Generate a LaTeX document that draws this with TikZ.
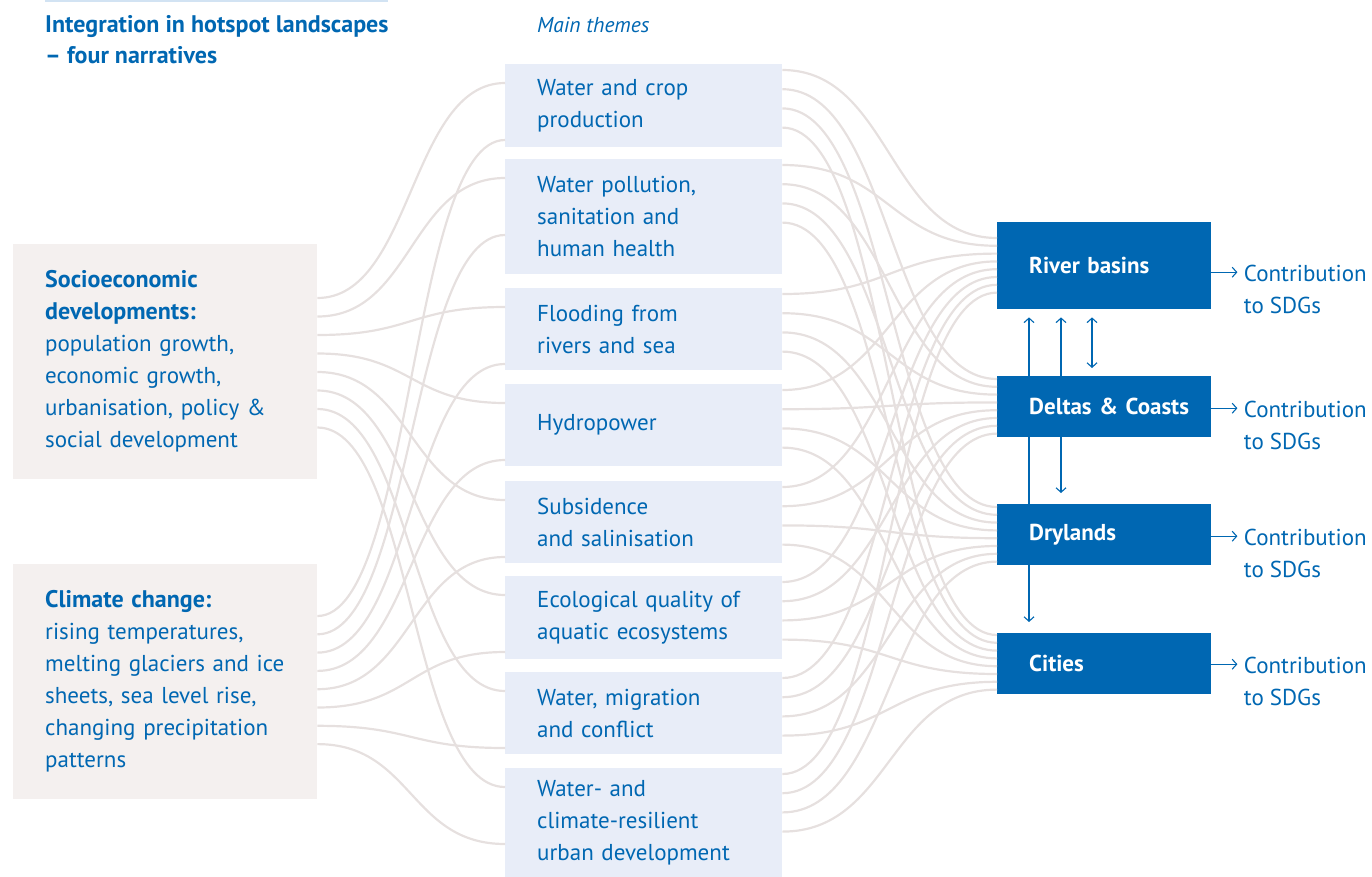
\documentclass[tikz,border=0pt]{standalone}
\usepackage{fontspec}
\setmainfont{PT Sans}
\usetikzlibrary{arrows.meta}

\definecolor{pblblue}{HTML}{0067B2}
\definecolor{themefill}{HTML}{E8EDF8}
\definecolor{driverfill}{HTML}{F4F0EF}
\definecolor{flowgrey}{HTML}{E6E0DF}
\definecolor{rulelight}{HTML}{D2E3F3}

\newcommand{\boxfont}{\fontsize{23}{32}\selectfont}
\newcommand{\headbf}[1]{{\fontsize{24}{32}\selectfont\bfseries #1}}

\tikzset{
  driver/.style={fill=driverfill, anchor=north west, text width=240pt, inner xsep=32pt,
    inner ysep=0pt, minimum height=235pt, align=left, text=pblblue, font=\boxfont},
  theme/.style={fill=themefill, anchor=north west, text width=213pt, inner xsep=32pt,
    inner ysep=0pt, align=left, text=pblblue, font=\boxfont},
  landscape/.style={fill=pblblue, anchor=north west, text width=150pt, inner xsep=32pt,
    inner ysep=0pt, align=left, text=white, font=\boxfont\bfseries},
  contrib/.style={anchor=west, inner sep=6pt, align=left, text=pblblue, font=\boxfont},
  flow/.style={draw=flowgrey, line width=2.2pt},
  barb/.tip={Straight Barb[length=4.5pt,width=10pt]},
  link/.style={draw=pblblue, line width=1.1pt, -barb},
}

\begin{document}
\begin{tikzpicture}[x=1pt,y=-1pt]
  \useasboundingbox (0,0) rectangle (1372,876);

  % heading
  \draw[rulelight, line width=2pt] (45,1)--(388,1);
  \node[anchor=north west, inner sep=0pt, align=left, text=pblblue,
    font=\fontsize{24}{31}\selectfont\bfseries] (heading) at (45,15)
    {Integration in hotspot landscapes\\-- four narratives};
  \node[anchor=base west, inner sep=0pt, text=pblblue, font=\fontsize{21.5}{24}\selectfont\itshape]
    (themeshead) at (537,32) {Main themes};

  % drivers
  \node[driver] (soc) at (13,244) {\headbf{Socioeconomic}\\\headbf{developments:}\\population growth,\\
    economic growth,\\urbanisation, policy \&\\social development};
  \node[driver] (clim) at (13,564) {\headbf{Climate change:}\\rising temperatures,\\
    melting glaciers and ice\\sheets, sea level rise,\\changing precipitation\\patterns};

  % main themes
  \foreach \i/\top/\hgt/\txt in {
      1/64/83/{Water and crop\\production},
      2/159/115/{Water pollution,\\sanitation and\\human health},
      3/288/82/{Flooding from\\rivers and sea},
      4/384/82/{Hydropower},
      5/481/82/{Subsidence\\and salinisation},
      6/576/83/{Ecological quality of\\aquatic ecosystems},
      7/672/82/{Water, migration\\and conflict},
      8/768/110/{Water- and\\climate-resilient\\urban development}} {
    \node[theme, minimum height=\hgt pt] (th\i) at (505,\top) {\txt};
  }

  % hotspot landscapes
  \node[landscape, minimum height=87pt] (river)  at (997,222) {River~basins};
  \node[landscape, minimum height=61pt] (delta)  at (997,376) {Deltas~\&~Coasts};
  \node[landscape, minimum height=61pt] (dry)    at (997,504) {Drylands};
  \node[landscape, minimum height=61pt] (cities) at (997,633) {Cities};

  % drivers to themes
  \foreach \i in {1,...,8} {
    \pgfmathsetmacro{\offs}{54+18.5*(\i-1)}
    \pgfmathsetmacro{\offc}{52+18.3*(\i-1)}
    \draw[flow] ([yshift=-\offs pt]soc.north east) .. controls +(95,0) and +(-95,0) .. ([yshift=-19pt]th\i.north west);
    \draw[flow] ([yshift=-\offc pt]clim.north east) .. controls +(95,0) and +(-95,0) .. ([yshift=-76pt]th\i.north west);
  }

  % themes to landscapes
  \foreach \i in {1,...,8} {
    \foreach \j/\land/\first in {1/river/16,2/delta/3,3/dry/3,4/cities/2} {
      \pgfmathsetmacro{\outoff}{6+19.2*(\j-1)}
      \pgfmathsetmacro{\inoff}{\first+7.8*(\i-1)}
      \draw[flow] ([yshift=-\outoff pt]th\i.north east) .. controls +(108,0) and +(-108,0) .. ([yshift=-\inoff pt]\land.north west);
    }
  }

  % links between landscapes
  \draw[link] ([xshift=32pt]dry.north west) -- ([xshift=32pt,yshift=-8pt]river.south west);
  \draw[link] ([xshift=64pt]delta.north west) -- ([xshift=64pt,yshift=-8pt]river.south west);
  \draw[link, barb-barb] ([xshift=95pt,yshift=-8pt]river.south west) -- ([xshift=95pt,yshift=8pt]delta.north west);
  \draw[link] ([xshift=64pt]delta.south west) -- ([xshift=64pt,yshift=11pt]dry.north west);
  \draw[link] ([xshift=32pt]dry.south west) -- ([xshift=32pt,yshift=11pt]cities.north west);

  % contributions
  \foreach \land/\s in {river/6.5,delta/1.5,dry/1.5,cities/0.5} {
    \draw[link] ([yshift=-\s pt]\land.east) -- ++(26,0)
      node[contrib, yshift=-17pt] (sdg\land) {Contribution\\to SDGs};
  }
\end{tikzpicture}
\end{document}
